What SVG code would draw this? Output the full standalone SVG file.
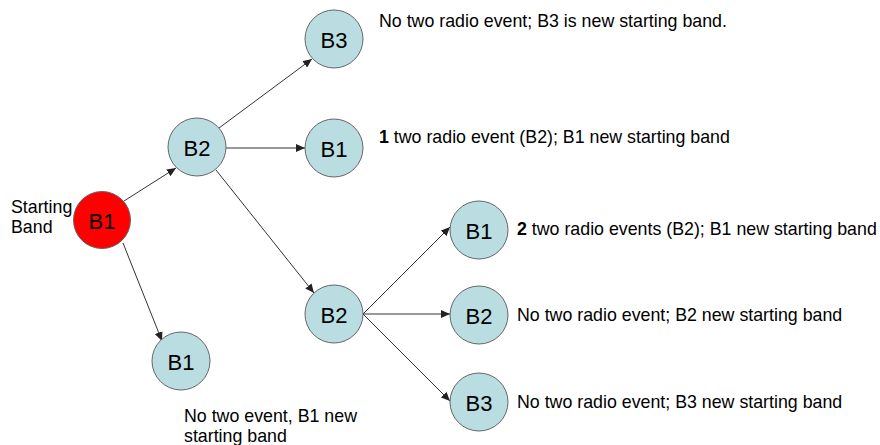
<svg xmlns="http://www.w3.org/2000/svg" width="880" height="445" viewBox="0 0 880 445">
<style>
.node{fill:#b9dde1;stroke:#666;stroke-width:1}
.start{fill:#ff0000;stroke:#666;stroke-width:1}
.lbl{font-family:"Liberation Sans",Arial,sans-serif;font-size:22px;fill:#000;text-anchor:middle;dominant-baseline:central}
.txt{font-family:"Liberation Sans",Arial,sans-serif;font-size:17.8px;fill:#000}
.edge{stroke:#333;stroke-width:1;fill:none;marker-end:url(#arr)}
</style>
<defs>
<marker id="arr" markerUnits="userSpaceOnUse" markerWidth="10" markerHeight="8" refX="9" refY="4" orient="auto">
<path d="M0,0 L9,4 L0,8 Z" fill="#222"/>
</marker>
</defs>
<rect width="880" height="445" fill="#fff"/>
<g id="connectors">
<line class="edge" x1="124" y1="201" x2="176" y2="168"/>
<line class="edge" x1="219" y1="128" x2="312" y2="59"/>
<line class="edge" x1="226" y1="148" x2="305" y2="148"/>
<line class="edge" x1="216" y1="170" x2="314" y2="293"/>
<line class="edge" x1="123" y1="243" x2="162" y2="341"/>
<line class="edge" x1="363" y1="314" x2="450" y2="227"/>
<line class="edge" x1="363" y1="314" x2="450" y2="314"/>
<line class="edge" x1="363" y1="314" x2="450" y2="401"/>
</g>
<g id="start-label"><text class="txt" x="11" y="213">Starting</text><text class="txt" x="11" y="233">Band</text></g>
<g id="n-start"><circle class="start" cx="102" cy="220" r="28.5"/><text class="lbl" x="102" y="221">B1</text></g>
<g id="n-b2a"><circle class="node" cx="197" cy="147" r="29"/><text class="lbl" x="197" y="148">B2</text></g>
<g id="n-b3a"><circle class="node" cx="334" cy="39" r="29"/><text class="lbl" x="334" y="40">B3</text></g>
<g id="n-b1a"><circle class="node" cx="334" cy="148" r="29"/><text class="lbl" x="334" y="149">B1</text></g>
<g id="n-b2b"><circle class="node" cx="334" cy="314" r="29"/><text class="lbl" x="334" y="315">B2</text></g>
<g id="n-b1b"><circle class="node" cx="181" cy="361" r="29"/><text class="lbl" x="181" y="362">B1</text></g>
<g id="n-b1c"><circle class="node" cx="479" cy="230" r="29"/><text class="lbl" x="479" y="231">B1</text></g>
<g id="n-b2c"><circle class="node" cx="479" cy="315" r="29"/><text class="lbl" x="479" y="316">B2</text></g>
<g id="n-b3c"><circle class="node" cx="479" cy="402" r="29"/><text class="lbl" x="479" y="403">B3</text></g>
<g id="notes">
<text class="txt" x="379" y="27">No two radio event; B3 is new starting band.</text>
<text class="txt" x="379" y="143"><tspan font-weight="bold">1</tspan> two radio event (B2); B1 new starting band</text>
<text class="txt" x="517" y="235"><tspan font-weight="bold">2</tspan> two radio events (B2); B1 new starting band</text>
<text class="txt" x="517" y="321">No two radio event; B2 new starting band</text>
<text class="txt" x="517" y="408">No two radio event; B3 new starting band</text>
<text class="txt" x="184" y="422">No two event, B1 new</text>
<text class="txt" x="184" y="442">starting band</text>
</g>
</svg>
